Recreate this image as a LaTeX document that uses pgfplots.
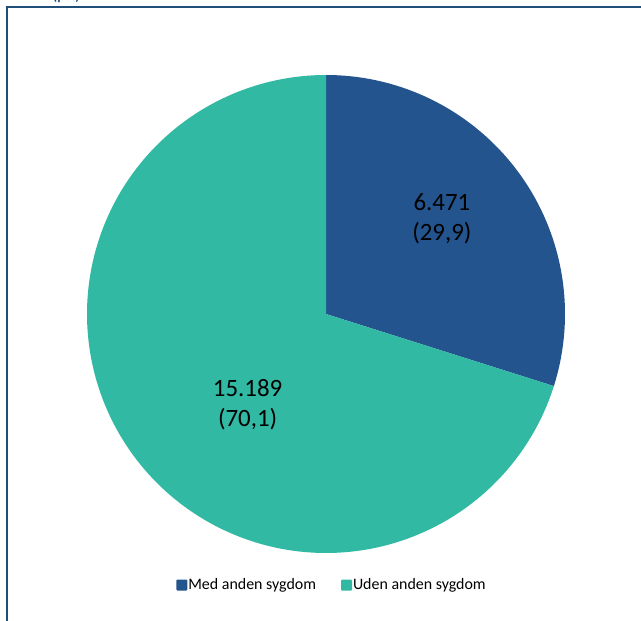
\documentclass[border=0pt]{standalone}
\usepackage{pgfplots}
\pgfplotsset{compat=1.18}
\usepackage{pgfplotstable}
\usepackage{fontspec}
\setmainfont{Carlito}
\definecolor{medblue}{HTML}{24548E}
\definecolor{udenteal}{HTML}{31B9A3}
\definecolor{framecol}{HTML}{1F4E79}

\pgfplotstableread{
label value pct
Med 6471 29.9
Uden 15189 70.1
}\piedata

\begin{document}
\begin{tikzpicture}
\pgfplotstablegetelem{0}{value}\of\piedata \let\va\pgfplotsretval
\pgfplotstablegetelem{1}{value}\of\piedata \let\vb\pgfplotsretval
\edef\splitang{\fpeval{90-360*\va/(\va+\vb)}}
\useasboundingbox (0bp,0bp) rectangle (641bp,621bp);
\begin{scope}
\clip (0bp,0bp) rectangle (641bp,621bp);
\draw[framecol, line width=2.4bp] (7bp,-20bp) rectangle (700bp,614bp);
\node[font=\bfseries\fontsize{14}{16}\selectfont, text=framecol, anchor=base east, inner sep=0pt] at (80bp,620bp) {(pct)};
\end{scope}
\begin{axis}[
  at={(326bp,307bp)}, anchor=center,
  scale only axis, width=478bp, height=478bp,
  xmin=-1, xmax=1, ymin=-1, ymax=1,
  hide axis, clip=false,
  legend columns=2,
  legend image code/.code={\fill[rounded corners=1bp] (0bp,-5.5bp) rectangle (11bp,5.5bp);},
  legend style={at={(0.5115,-0.067)}, anchor=center, draw=none, fill=none,
    font=\fontsize{16}{19}\selectfont, inner sep=0pt,
    nodes={inner sep=1bp},
    /tikz/every even column/.append style={column sep=24bp}},
  legend cell align=left,
]
\addplot[draw=none, fill=medblue, domain=90:\splitang, samples=180, variable=\t]
  ({cos(t)},{sin(t)}) -- (axis cs:0,0) -- cycle;
\addlegendentry{Med anden sygdom}
\addplot[draw=none, fill=udenteal, domain=\splitang:-270, samples=300, variable=\t]
  ({cos(t)},{sin(t)}) -- (axis cs:0,0) -- cycle;
\addlegendentry{Uden anden sygdom}
\node[align=center, font=\fontsize{25}{30}\selectfont, inner sep=0pt] at (axis cs:0.485,0.40) {6.471\\(29,9)};
\node[align=center, font=\fontsize{25}{30}\selectfont, inner sep=0pt] at (axis cs:-0.328,-0.381) {15.189\\(70,1)};
\end{axis}
\end{tikzpicture}
\end{document}
